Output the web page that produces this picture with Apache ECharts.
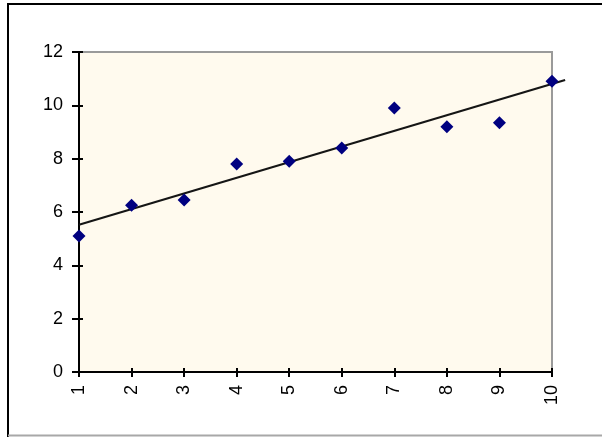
<!DOCTYPE html>
<html>
<head>
<meta charset="utf-8">
<script src="https://cdn.jsdelivr.net/npm/echarts@6/dist/echarts.min.js"></script>
<style>
html,body{margin:0;padding:0;background:#fff;}
#chart{width:602px;height:438px;}
</style>
</head>
<body>
<div id="chart"></div>
<script>
const categories = ['1','2','3','4','5','6','7','8','9','10'];
const xValues = [1,2,3,4,5,6,7,8,9,10];
const yValues = [5.1, 6.25, 6.45, 7.8, 7.9, 8.4, 9.9, 9.2, 9.35, 10.9];
const trendX = [1, 10.25];
const trendY = [5.52, 10.95];
const yMin = 0, yMax = 12, yStep = 2;

const chart = echarts.init(document.getElementById('chart'), null, {renderer:'canvas'});
const font = 'Liberation Sans, Arial, sans-serif';
const common = {
  type:'value', min:1, max:10, interval:1, splitLine:{show:false}
};
chart.setOption({
  animation:false,
  backgroundColor:'#ffffff',
  grid:{left:79, right:50, top:52, bottom:66, show:true, backgroundColor:'#fffaee', borderColor:'#9a9a9a', borderWidth:2},
  xAxis:[
    Object.assign({}, common, {
      position:'bottom',
      axisLine:{show:true, onZero:false, lineStyle:{color:'#000', width:2}},
      axisTick:{show:true, inside:false, length:5, lineStyle:{color:'#000', width:2}},
      axisLabel:{rotate:90, margin:13, color:'#000', fontFamily:font, fontSize:18,
        formatter:function(v){ return categories[xValues.indexOf(v)]; }}
    }),
    Object.assign({}, common, {
      position:'bottom',
      axisLine:{show:false},
      axisTick:{show:true, inside:true, length:4, lineStyle:{color:'#000', width:2}},
      axisLabel:{show:false}
    })
  ],
  yAxis:[
    {type:'value', min:yMin, max:yMax, interval:yStep, position:'left', splitLine:{show:false},
      axisLine:{show:true, onZero:false, lineStyle:{color:'#000', width:2}},
      axisTick:{show:true, inside:false, length:7, lineStyle:{color:'#000', width:2}},
      axisLabel:{margin:16, color:'#000', fontFamily:font, fontSize:18}},
    {type:'value', min:yMin, max:yMax, interval:yStep, position:'left', splitLine:{show:false},
      axisLine:{show:false},
      axisTick:{show:true, inside:true, length:4, lineStyle:{color:'#000', width:2}},
      axisLabel:{show:false}}
  ],
  graphic:[
    {type:'line', shape:{x1:7, y1:4, x2:602, y2:4}, style:{stroke:'#000', lineWidth:2}},
    {type:'line', shape:{x1:8, y1:3, x2:8, y2:437}, style:{stroke:'#000', lineWidth:2}},
    {type:'line', shape:{x1:8, y1:435.5, x2:602, y2:435.5}, style:{stroke:'#a8a8a8', lineWidth:2}}
  ],
  series:[
    {type:'custom', xAxisIndex:0, yAxisIndex:0, clip:false, z:2,
      data: [[trendX[0], trendY[0], trendX[1], trendY[1]]],
      encode:{x:[0,2], y:[1,3]},
      renderItem:function(params, api){
        const p1 = api.coord([api.value(0), api.value(1)]);
        const p2 = api.coord([api.value(2), api.value(3)]);
        return {type:'line', shape:{x1:p1[0], y1:p1[1], x2:p2[0], y2:p2[1]},
          style:{stroke:'#151515', lineWidth:2.2}};
      }},
    {type:'scatter', xAxisIndex:0, yAxisIndex:0, symbol:'diamond', symbolSize:13, z:3,
      itemStyle:{color:'#000080', opacity:1},
      data: xValues.map((x,i)=>[x, yValues[i]])}
  ]
});
</script>
</body>
</html>
